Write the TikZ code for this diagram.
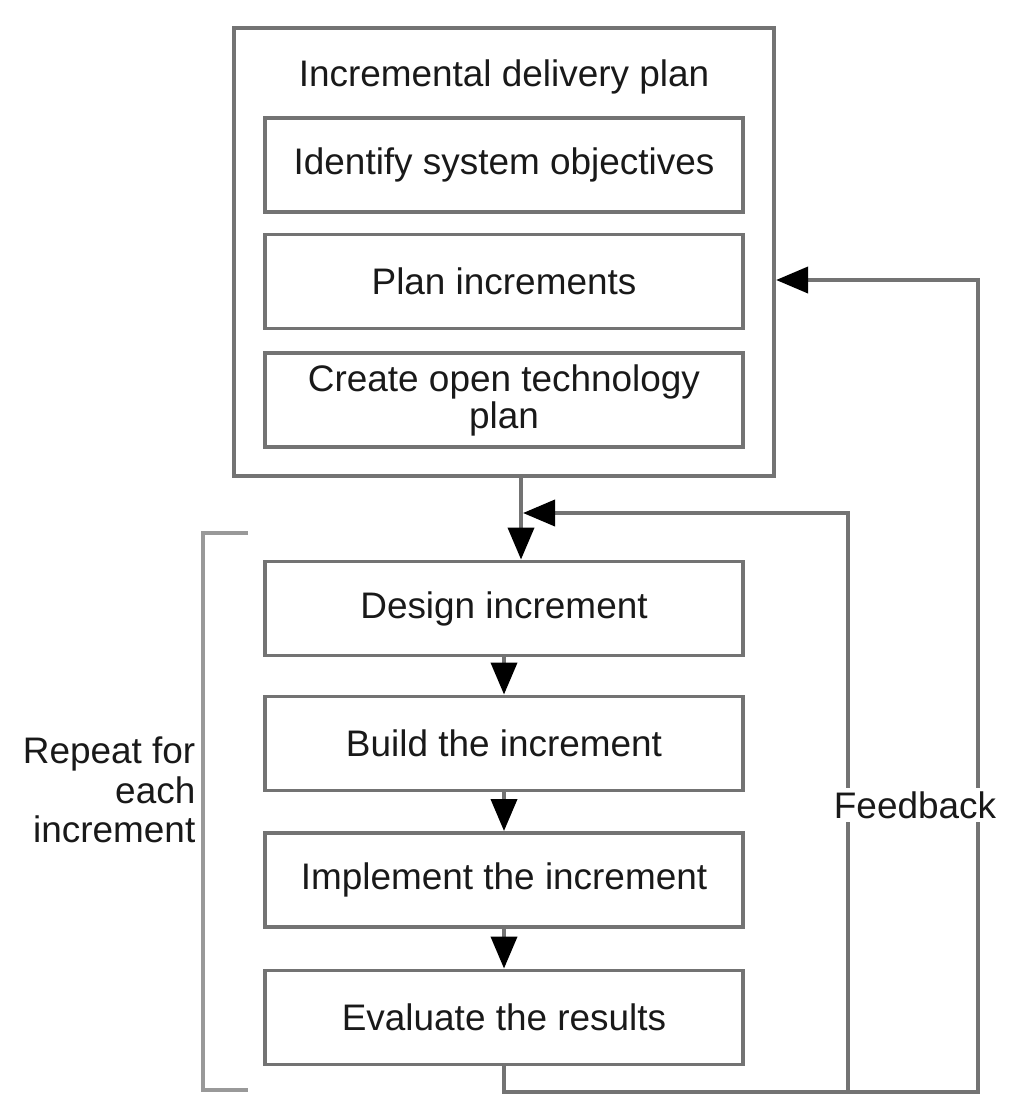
\documentclass[tikz,border=0pt]{standalone}
\usepackage{fontspec}
\setmainfont{Liberation Sans}
\usetikzlibrary{positioning, arrows.meta}
\tikzset{>={Triangle[length=3.2mm,width=2.6mm,color=black]}}
\definecolor{linegray}{gray}{0.45}

\begin{document}
\begin{tikzpicture}[x=0.01cm,y=-0.01cm,
  every node/.style={font=\fontsize{10.5}{11}\selectfont,text=black!90},
  stage/.style={draw=linegray,line width=1.1pt,minimum width=4.78cm,minimum height=0.94cm,inner sep=0pt,align=center},
  flow/.style={draw=linegray,line width=1.1pt}]
\useasboundingbox (0,0) rectangle (1010,1106);
% delivery plan
\node[draw=linegray,line width=1.1pt,minimum width=5.4cm,minimum height=4.48cm] (plan) at (504,252) {};
\node (title) at (504,77) {Incremental delivery plan};
\node[stage] (objectives) at (504,165) {Identify system objectives};
\node[stage] (increments) at (504,281.5) {Plan increments};
\node[stage,font=\fontsize{10.5}{10.5}\selectfont] (techplan) at (504,400) {Create open technology\\plan};
% increment cycle
\node[stage] (design) at (504,608.5) {Design increment};
\node[stage] (build) at (504,743.5) {Build the increment};
\node[stage] (implement) at (504,880) {Implement the increment};
\node[stage] (evaluate) at (504,1017.5) {Evaluate the results};
\draw[black!40,line width=0.9pt] (248,533) -- (203,533) -- (203,1090) -- (248,1090);
\node[align=right,anchor=east,inner sep=0pt,font=\fontsize{10.5}{11.3}\selectfont] (repeat) at (196,790) {Repeat for\\each\\increment};
\draw[flow,->] ([xshift=0.17cm]plan.south) -- ([xshift=0.17cm]design.north);
\draw[flow,->] (design) -- (build);
\draw[flow,->] (build) -- (implement);
\draw[flow,->] (implement) -- (evaluate);
% feedback loops
\coordinate (fbbottom) at (848,1092);
\coordinate (fbinner) at (848,513);
\coordinate (fbouter) at (978,280);
\draw[flow,->] (evaluate.south) |- (fbbottom) -- (fbinner) -- ([xshift=0.19cm]plan.south |- fbinner);
\draw[flow,->] (fbbottom) -| (fbouter) -- (plan.east |- fbouter);
\node[fill=white,inner sep=1pt] (feedback) at (915,805) {Feedback};
\end{tikzpicture}
\end{document}
